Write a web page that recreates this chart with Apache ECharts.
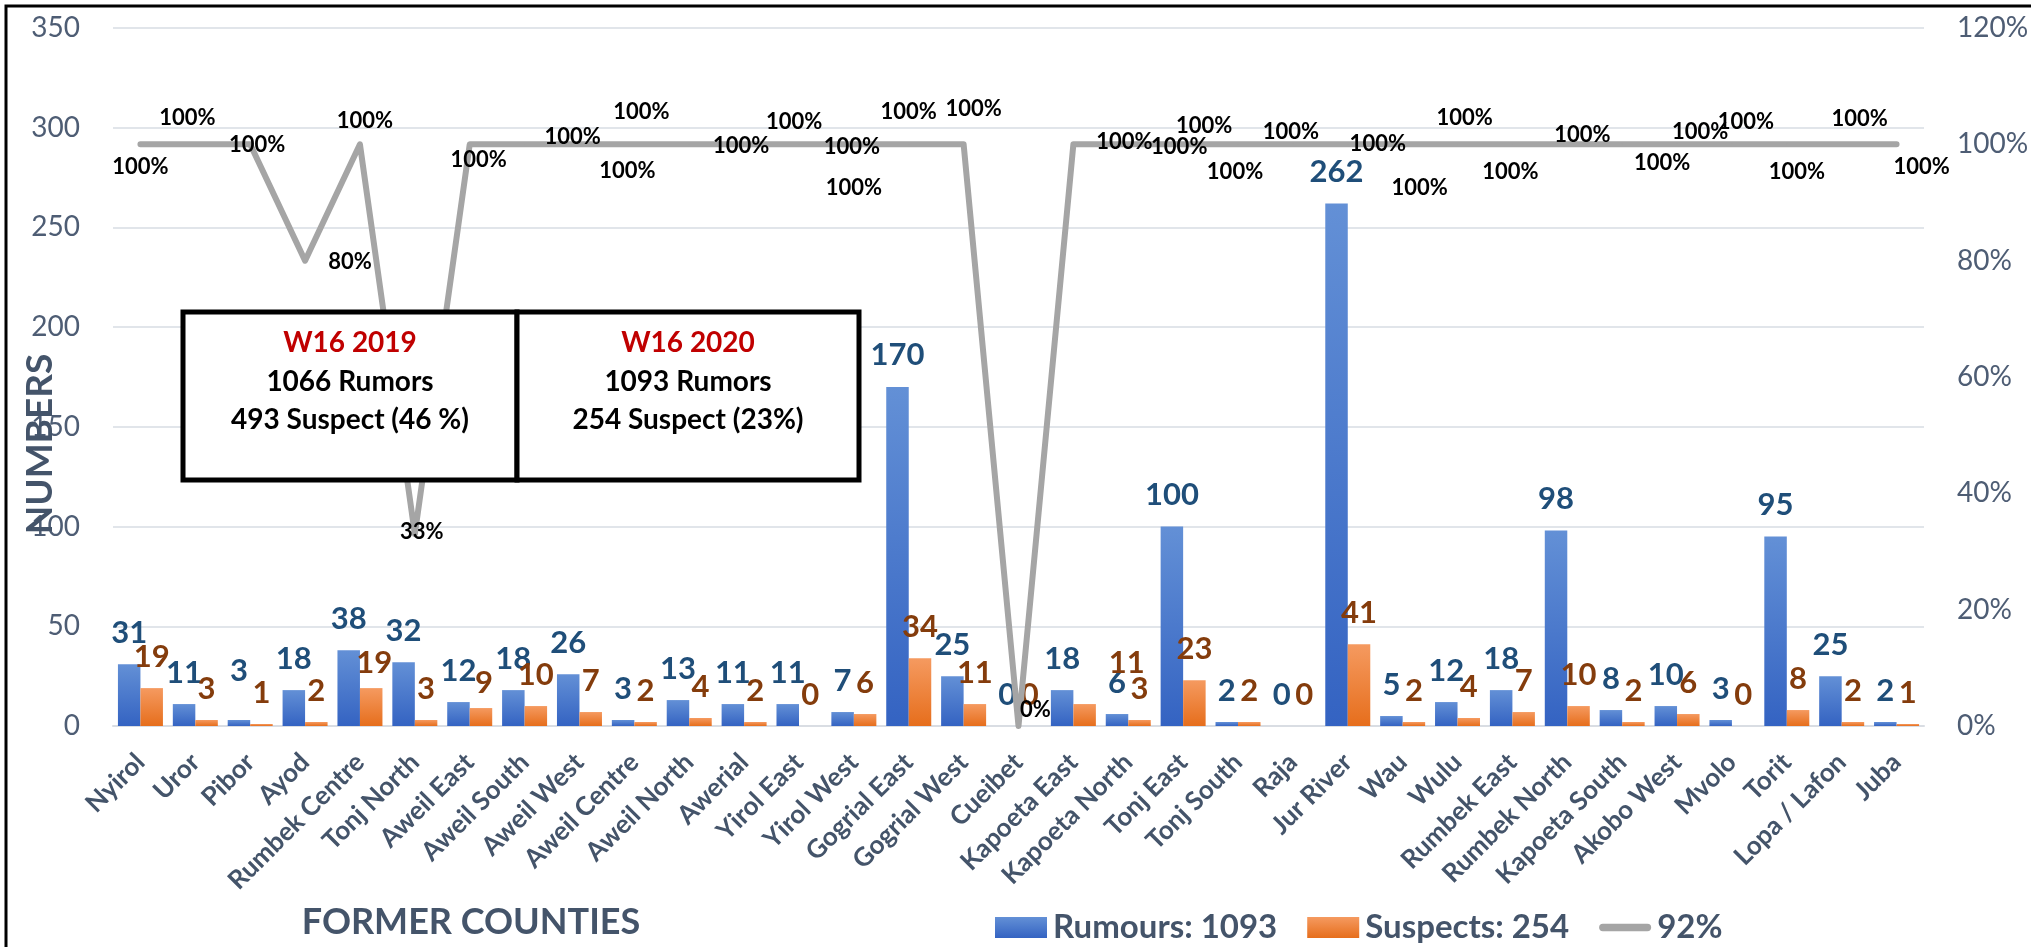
<!DOCTYPE html>
<html><head><meta charset="utf-8">
<script src="https://cdn.jsdelivr.net/npm/echarts@6/dist/echarts.min.js"></script>
<style>html,body{margin:0;padding:0;background:#fff}#c{width:2031px;height:947px}</style>
</head><body><div id="c"></div>
<script>
// ---------- DATA ----------
const categories = ['Nyirol','Uror','Pibor','Ayod','Rumbek Centre','Tonj North','Aweil East','Aweil South','Aweil West','Aweil Centre','Aweil North','Awerial','Yirol East','Yirol West','Gogrial East','Gogrial West','Cueibet','Kapoeta East','Kapoeta North','Tonj East','Tonj South','Raja','Jur River','Wau','Wulu','Rumbek East','Rumbek North','Kapoeta South','Akobo West','Mvolo','Torit','Lopa / Lafon','Juba'];
const rumours  = [31,11,3,18,38,32,12,18,26,3,13,11,11,7,170,25,0,18,6,100,2,0,262,5,12,18,98,8,10,3,95,25,2];
const suspects = [19,3,1,2,19,3,9,10,7,2,4,2,0,6,34,11,0,11,3,23,2,0,41,2,4,7,10,2,6,0,8,2,1];
const percentInvestigated = [100,100,100,80,100,33,100,100,100,100,100,100,100,100,100,100,0,100,100,100,100,100,100,100,100,100,100,100,100,100,100,100,100];
const seriesNames = ['Rumours: 1093','Suspects: 254','92%'];
const boxTitles = ['W16 2019','W16 2020'];
const boxRumors = ['1066 Rumors','1093 Rumors'];
const boxSuspects = ['493 Suspect (46 %)','254 Suspect (23%)'];
const axisTitleX = 'FORMER COUNTIES';
const axisTitleY = 'NUMBERS';

// ---------- STYLE (label nudges, px) ----------
const lineLabelNudge = [[0,23],[-8,-26],[7,1],[45,1],[5,-23],[7,-2],[9,16],[48,-7],[48,27],[7,-32],[52,2],[50,-22],[53,3],[0,44],[0,-32],[10,-35],[17,-16],[51,-2],[51,3],[21,-18],[-3,28],[-2,-12],[30,0],[17,44],[7,-26],[-2,28],[15,-9],[40,19],[23,-12],[14,-22],[10,28],[18,-25],[25,23]];
const rumourNudge = {2:[0,-18]};
const suspectNudge = {17:[42,-10],4:[3,6],6:[3,6]};

const FONT = 'Lato, "Noto Sans", sans-serif';
const SLATE = '#44546A';

const blueGrad = new echarts.graphic.LinearGradient(0,0,0,1,[{offset:0,color:'#6390D6'},{offset:1,color:'#3463C2'}]);
const orangeGrad = new echarts.graphic.LinearGradient(0,0,0,1,[{offset:0,color:'#F59A60'},{offset:1,color:'#E66E1C'}]);

function withNudge(arr, nudge){
  return arr.map((v,i)=> nudge[i] ? {value:v, label:{offset:nudge[i]}} : v);
}

const chart = echarts.init(document.getElementById('c'), null, {renderer:'canvas'});
chart.setOption({
  animation:false,
  backgroundColor:'#fff',
  textStyle:{fontFamily:FONT},
  grid:{left:113,right:107,top:28,bottom:221,containLabel:false,outerBoundsMode:'none'},
  legend:{
    left:990, top:906, itemGap:30, itemWidth:52, itemHeight:21,
    textStyle:{fontFamily:FONT,fontSize:33,fontWeight:'bold',color:SLATE,padding:[0,0,0,1]},
    data:[
      {name:seriesNames[0],icon:'rect'},
      {name:seriesNames[1],icon:'rect'},
      {name:seriesNames[2],icon:'path://M4,0H52A4,4 0 0 1 52,8H4A4,4 0 0 1 4,0Z'}
    ]
  },
  xAxis:{
    type:'category', data:categories,
    axisTick:{show:false},
    axisLine:{show:true,lineStyle:{color:'#D9DDE3',width:2}},
    axisLabel:{interval:0,rotate:45,margin:32,fontFamily:FONT,fontSize:26,fontWeight:'bold',color:SLATE}
  },
  yAxis:[
    {type:'value',min:0,max:350,interval:50,
     axisLine:{show:false},axisTick:{show:false},
     splitLine:{lineStyle:{color:'#E1E5EA',width:2}},
     axisLabel:{margin:33,fontFamily:FONT,fontSize:28,color:'#4E5D74'}},
    {type:'value',min:0,max:120,interval:20,position:'right',
     axisLine:{show:false},axisTick:{show:false},splitLine:{show:false},
     axisLabel:{margin:33,fontFamily:FONT,fontSize:28,color:'#4E5D74',formatter:'{value}%'}}
  ],
  series:[
    {name:seriesNames[0],type:'bar',data:withNudge(rumours,rumourNudge),
     barGap:'0%',barCategoryGap:'18%',
     itemStyle:{color:blueGrad},
     label:{show:true,position:'top',distance:16,fontFamily:FONT,fontSize:31,fontWeight:'bold',color:'#1F4E79'}},
    {name:seriesNames[1],type:'bar',data:withNudge(suspects,suspectNudge),
     barGap:'0%',barCategoryGap:'18%',
     itemStyle:{color:orangeGrad},
     label:{show:true,position:'top',distance:16,fontFamily:FONT,fontSize:31,fontWeight:'bold',color:'#843C0C'}},
    {name:seriesNames[2],type:'line',yAxisIndex:1,
     data:percentInvestigated.map((v,i)=>({value:v,label:{offset:lineLabelNudge[i]}})),
     symbol:'circle',symbolSize:1,
     itemStyle:{color:'#A5A5A5'},
     lineStyle:{color:'#A5A5A5',width:6,cap:'round',join:'round'},
     z:5,
     label:{show:true,position:'inside',formatter:'{c}%',fontFamily:FONT,fontSize:22,fontWeight:'bold',color:'#000'}}
  ],
  graphic:[
    {type:'rect',silent:true,z:0,shape:{x:6,y:6,width:2100,height:1000},style:{fill:'none',stroke:'#000',lineWidth:3}},
    {type:'rect',z:100,shape:{x:183,y:312,width:334,height:168},style:{fill:'#fff',stroke:'#000',lineWidth:5}},
    {type:'rect',z:100,shape:{x:517,y:312,width:342,height:168},style:{fill:'#fff',stroke:'#000',lineWidth:5}},
    {type:'text',z:101,x:350,y:343,style:{text:boxTitles[0],font:'bold 28px '+FONT,fill:'#C00000',textAlign:'center',textVerticalAlign:'middle'}},
    {type:'text',z:101,x:350,y:382,style:{text:boxRumors[0],font:'bold 28px '+FONT,fill:'#000',textAlign:'center',textVerticalAlign:'middle'}},
    {type:'text',z:101,x:350,y:420,style:{text:boxSuspects[0],font:'bold 28px '+FONT,fill:'#000',textAlign:'center',textVerticalAlign:'middle'}},
    {type:'text',z:101,x:688,y:343,style:{text:boxTitles[1],font:'bold 28px '+FONT,fill:'#C00000',textAlign:'center',textVerticalAlign:'middle'}},
    {type:'text',z:101,x:688,y:382,style:{text:boxRumors[1],font:'bold 28px '+FONT,fill:'#000',textAlign:'center',textVerticalAlign:'middle'}},
    {type:'text',z:101,x:688,y:420,style:{text:boxSuspects[1],font:'bold 28px '+FONT,fill:'#000',textAlign:'center',textVerticalAlign:'middle'}},
    {type:'text',z:102,x:40,y:444,rotation:Math.PI/2,style:{text:axisTitleY,font:'bold 37px '+FONT,fill:SLATE,textAlign:'center',textVerticalAlign:'middle'}},
    {type:'text',z:102,x:471,y:922,style:{text:axisTitleX,font:'bold 36px '+FONT,fill:SLATE,textAlign:'center',textVerticalAlign:'middle'}}
  ]
});
</script>
</body></html>
